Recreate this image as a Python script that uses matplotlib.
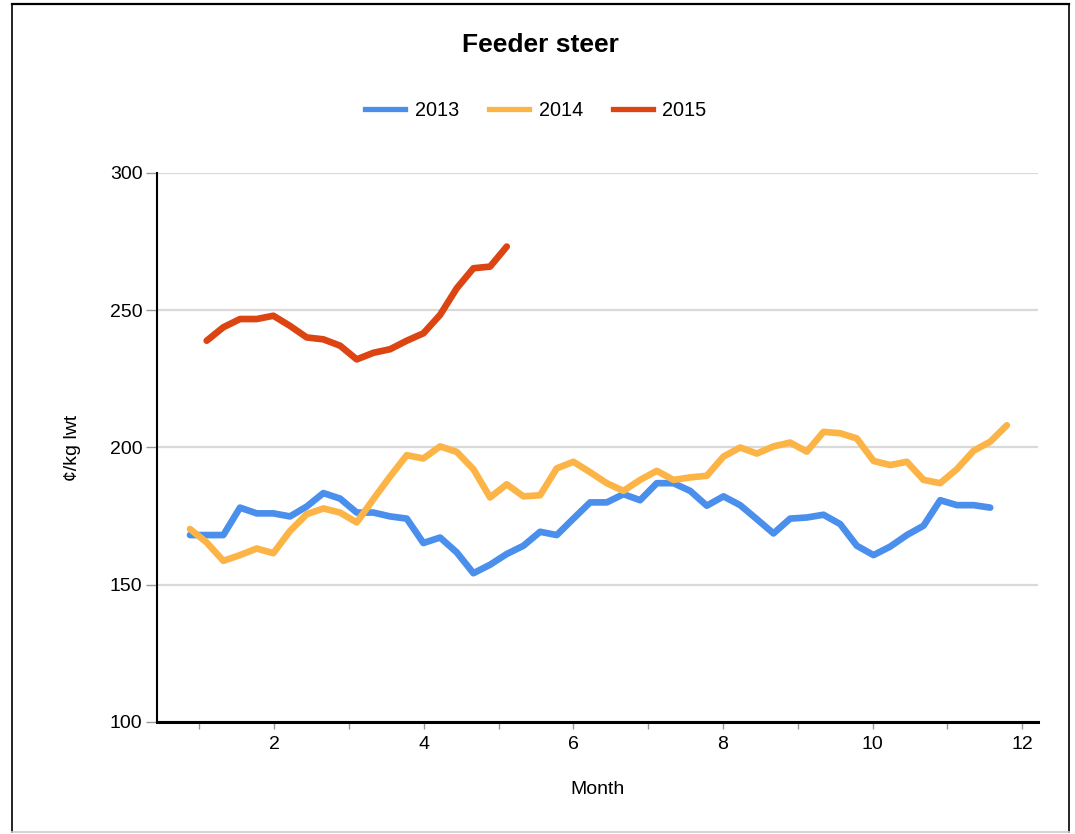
import numpy as np
import matplotlib
matplotlib.use("Agg")
import matplotlib.pyplot as plt
from matplotlib.lines import Line2D

# ---------------------------------------------------------------------------
# Data (weekly prices, c/kg lwt)
# ---------------------------------------------------------------------------

years = ["2013", "2014", "2015"]

price_2013 = [168.1, 168.1, 168.1, 178.1, 176.0, 176.0, 174.9, 178.5, 183.4, 181.4,
              176.3, 176.3, 174.9, 174.1, 165.2, 167.2, 161.8, 154.2, 157.3, 161.2,
              164.2, 169.3, 168.1, 174.1, 180.0, 180.0, 183.0, 180.8, 187.0, 187.0,
              184.2, 178.8, 182.2, 179.0, 173.9, 168.7, 174.1, 174.5, 175.5, 172.1,
              164.2, 160.8, 163.9, 168.1, 171.5, 180.8, 179.0, 179.0, 178.1]

price_2014 = [170.3, 165.4, 158.7, 160.8, 163.2, 161.5, 169.6, 175.7, 177.8, 176.3,
              172.7, 181.2, 189.4, 197.2, 196.0, 200.4, 198.4, 192.1, 181.8, 186.6,
              182.2, 182.6, 192.4, 194.8, 191.0, 187.0, 184.2, 188.2, 191.5, 188.2,
              189.1, 189.7, 196.7, 200.0, 197.8, 200.4, 201.8, 198.5, 205.7, 205.2,
              203.3, 195.1, 193.6, 194.8, 188.2, 187.0, 192.1, 198.8, 202.1, 208.1]

price_2015 = [238.9, 243.8, 246.8, 246.8, 248.0, 244.3, 240.1, 239.4, 237.1, 232.1,
              234.5, 235.8, 238.9, 241.6, 248.3, 258.0, 265.3, 265.9, 273.2]

# week index -> month position on the axis
week_2013 = np.arange(len(price_2013))
week_2014 = np.arange(len(price_2014))
week_2015 = np.arange(1, len(price_2015) + 1)
MONTH0 = 0.877
MONTH_PER_WEEK = 0.2228

# ---------------------------------------------------------------------------
# Theme
# ---------------------------------------------------------------------------

_BLUE = "#4a8fec"
_ORANGE = "#fdb446"
_RED = "#dc4412"
_GRID = "#d9d9d9"
_TICK = "#999999"

plt.rcParams["font.family"] = ["Liberation Sans", "DejaVu Sans"]

fig = plt.figure(figsize=(10.75, 8.34), dpi=100)
fig.patch.set_facecolor("white")
ax = fig.add_axes([157 / 1075, 1 - 722 / 834, (1038 - 157) / 1075, (722 - 173) / 834])

series = [(week_2013, price_2013, _BLUE),
          (week_2014, price_2014, _ORANGE),
          (week_2015, price_2015, _RED)]
for (weeks, vals, color), label in zip(series, years):
    ax.plot(MONTH0 + weeks * MONTH_PER_WEEK, vals, color=color, lw=4.8, label=label,
            solid_capstyle="round", solid_joinstyle="round", zorder=3)

ax.set_xlim(0.436, 12.21)
ax.set_ylim(100, 300)
ax.set_yticks([100, 150, 200, 250, 300])
ax.set_xticks([2, 4, 6, 8, 10, 12])
ax.set_xticks([1, 3, 5, 7, 9, 11], minor=True)
ax.grid(axis="y", color=_GRID, lw=1.6, zorder=1)
ax.set_axisbelow(True)

for side in ("top", "right"):
    ax.spines[side].set_visible(False)
ax.spines["left"].set_linewidth(1.5)
ax.spines["bottom"].set_linewidth(2.2)
ax.spines["left"].set_zorder(4)
ax.spines["bottom"].set_zorder(4)

ax.tick_params(axis="y", length=8, width=1, color=_TICK, pad=2.5, labelsize=14)
ax.tick_params(axis="x", which="both", length=5, width=1, color=_TICK, pad=5, labelsize=14)

ax.set_xlabel("Month", fontsize=14, labelpad=20)
ax.set_ylabel("¢/kg lwt", fontsize=14, labelpad=21)

fig.text(0.503, 0.946, "Feeder steer", fontsize=19, fontweight="bold",
         ha="center", va="center")

handles = [Line2D([], [], color=c, lw=3.8) for c in (_BLUE, _ORANGE, _RED)]
fig.legend(handles, years, loc="center", bbox_to_anchor=(0.4986, 0.868), ncol=3,
           frameon=False, fontsize=14.3, handlelength=2.0, handletextpad=0.5,
           columnspacing=1.5)

# ---- outer frame ----
fl, fr = 12 / 1075, 1069 / 1075
ft, fb = 1 - 4 / 834, 1 - 832 / 834
fig.add_artist(Line2D([fl, fr], [ft, ft], color="black", lw=1.6, transform=fig.transFigure))
fig.add_artist(Line2D([fl, fl], [fb, ft], color="black", lw=1.2, transform=fig.transFigure))
fig.add_artist(Line2D([fr, fr], [fb, ft], color="black", lw=1.2, transform=fig.transFigure))
fig.add_artist(Line2D([fl, fr], [fb, fb], color="#cccccc", lw=1.2, transform=fig.transFigure))

fig.savefig("out.png", dpi=100, facecolor="white")
plt.close(fig)
